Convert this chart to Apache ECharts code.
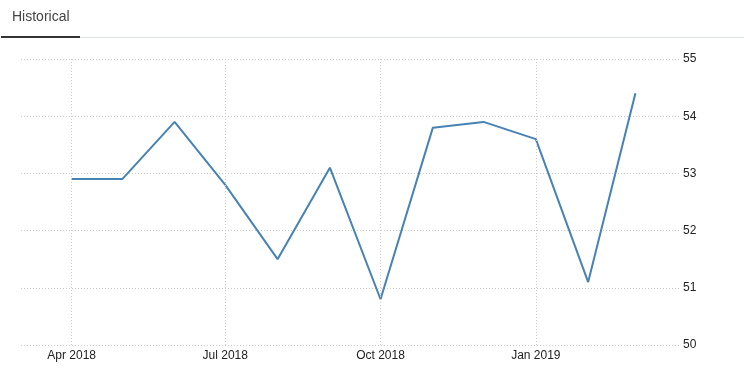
<!DOCTYPE html>
<html>
<head>
<meta charset="utf-8">
<script src="https://cdn.jsdelivr.net/npm/echarts@6/dist/echarts.min.js"></script>
<style>
html,body{margin:0;padding:0;background:#fff;}
#chart{width:744px;height:371px;}
</style>
</head>
<body>
<div id="chart"></div>
<script>
var dates = ['2018-04-01','2018-05-01','2018-06-01','2018-07-01','2018-08-01','2018-09-01','2018-10-01','2018-11-01','2018-12-01','2019-01-01','2019-02-01','2019-03-01'];
var values = [52.9, 52.9, 53.9, 52.8, 51.5, 53.1, 50.8, 53.8, 53.9, 53.6, 51.1, 54.4];
var tickDates = ['2018-04-01','2018-07-01','2018-10-01','2019-01-01'];
var tickLabels = ['Apr 2018','Jul 2018','Oct 2018','Jan 2019'];
var yTicks = [50, 51, 52, 53, 54, 55];

var chart = echarts.init(document.getElementById('chart'));
var seriesData = dates.map(function(d, i){ return [d, values[i]]; });
var markData = tickDates.map(function(d, i){
  return { xAxis: d, label: { formatter: tickLabels[i] } };
});

chart.setOption({
  animation: false,
  grid: { left: 21, right: 63, top: 59, bottom: 26, containLabel: false },
  graphic: [
    { type: 'text', left: 12, top: 10, style: { text: 'Historical', fill: '#444', font: '14px "Liberation Sans", Arial, sans-serif' } },
    { type: 'rect', shape: { x: 80, y: 37, width: 664, height: 1 }, style: { fill: '#dfe2e6' } },
    { type: 'rect', shape: { x: 1, y: 36, width: 79, height: 2 }, style: { fill: '#333' } }
  ],
  xAxis: {
    type: 'time',
    min: '2018-03-02',
    max: '2019-03-28',
    axisLine: { show: false },
    axisTick: { show: false },
    axisLabel: { show: false },
    splitLine: { show: false }
  },
  yAxis: {
    type: 'value',
    position: 'right',
    min: yTicks[0],
    max: yTicks[yTicks.length - 1],
    interval: 1,
    axisLine: { show: false },
    axisTick: { show: false },
    axisLabel: { margin: 2, color: '#222', fontSize: 12, fontFamily: '"Liberation Sans", Arial, sans-serif' },
    splitLine: { lineStyle: { color: '#cccccc', type: [1, 2], width: 1 } }
  },
  series: [{
    type: 'line',
    data: seriesData,
    symbol: 'none',
    lineStyle: { color: '#4682b4', width: 2 },
    itemStyle: { color: '#4682b4' },
    markLine: {
      silent: true,
      symbol: ['none', 'none'],
      lineStyle: { color: '#cccccc', type: [1, 2], width: 1 },
      label: { show: true, position: 'start', distance: 5, color: '#222', fontSize: 12, fontFamily: '"Liberation Sans", Arial, sans-serif' },
      emphasis: { disabled: true },
      data: markData
    }
  }]
});
</script>
</body>
</html>
